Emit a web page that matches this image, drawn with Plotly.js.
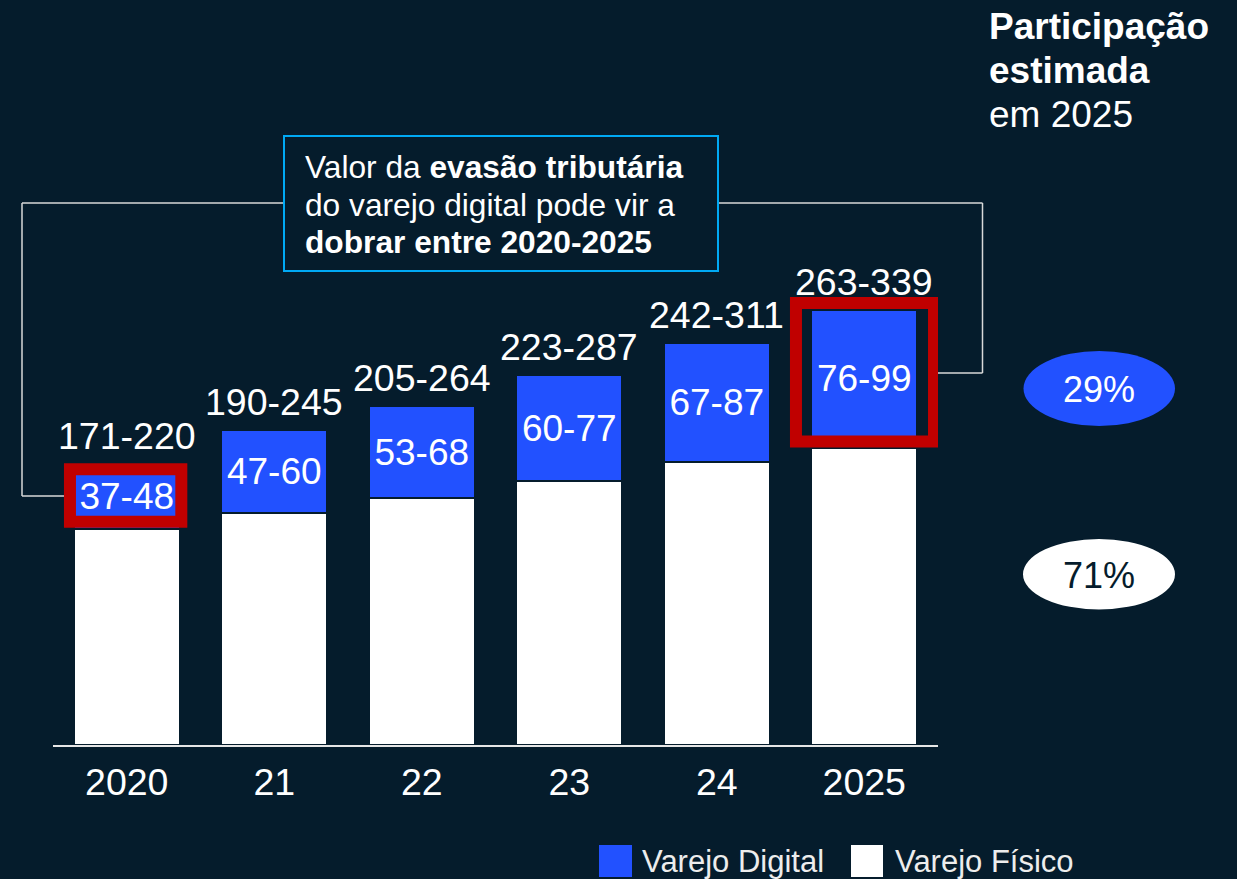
<!DOCTYPE html>
<html>
<head>
<meta charset="utf-8">
<script src="https://cdn.plot.ly/plotly-3.0.1.min.js"></script>
<style>
  html, body { margin: 0; padding: 0; background: #051C2C; }
  #chart { width: 1237px; height: 879px; }
</style>
</head>
<body>
<div id="chart"></div>
<script>
// ---- Data ----
const years = ['2020', '21', '22', '23', '24', '2025'];
const varejoFisico = [149, 160, 170, 182, 195, 205];
const varejoDigital = [45, 57, 64, 73, 82, 95];
const digitalLabels = ['37-48', '47-60', '53-68', '60-77', '67-87', '76-99'];
const totalLabels = ['171-220', '190-245', '205-264', '223-287', '242-311', '263-339'];
const shareDigital = '29%';
const shareFisico = '71%';
const seriesNames = ['Varejo Digital', 'Varejo Físico'];
const calloutLines = ['Valor da <b>evasão tributária</b>', 'do varejo digital pode vir a', '<b>dobrar entre 2020-2025</b>'];
const sideTitle = ['<b>Participação</b>', '<b>estimada</b>', 'em 2025'];

// ---- Style ----
const BG = '#051C2C';
const BLUE = '#2251FF';
const WHITE = '#FFFFFF';
const RED = '#C00000';
const CYAN = '#00A9F4';
const LINE = '#D9D9D9';
const FONT = 'Arial, "Liberation Sans", sans-serif';

// layout geometry (pixels)
const M = {l: 53, r: 299, t: 54, b: 134};
const W = 1237 - M.l - M.r, H = 879 - M.t - M.b;
const px = v => (v - M.l) / W;          // pixel x -> paper x
const py = v => (879 - M.b - v) / H;    // pixel y -> paper y

const traces = [
  {
    type: 'bar', name: seriesNames[1], x: years, y: varejoFisico,
    marker: {color: WHITE, line: {color: BG, width: 2}},
    hoverinfo: 'skip', showlegend: false, cliponaxis: false
  },
  {
    type: 'bar', name: seriesNames[0], x: years, y: varejoDigital,
    marker: {color: BLUE, line: {color: BG, width: 2}},
    text: digitalLabels, textposition: 'inside', insidetextanchor: 'middle',
    textangle: 0, constraintext: 'none',
    textfont: {family: FONT, size: 37, color: WHITE},
    hoverinfo: 'skip', showlegend: false, cliponaxis: false
  }
];

const annotations = [];
// totals above bars
years.forEach((yr, i) => {
  annotations.push({
    x: i, y: varejoFisico[i] + varejoDigital[i], xref: 'x', yref: 'y',
    text: totalLabels[i], showarrow: false, xanchor: 'center', yanchor: 'middle', yshift: 28,
    font: {family: FONT, size: 37.5, color: WHITE}
  });
});
// callout text
const calloutY = [166.7, 204.5, 241.7];
calloutLines.forEach((t, i) => {
  annotations.push({
    x: px(303), y: py(calloutY[i]), xref: 'paper', yref: 'paper',
    xanchor: 'left', yanchor: 'middle', showarrow: false, text: t,
    font: {family: FONT, size: 31.7, color: WHITE}
  });
});
// side title
const sideY = [26, 70, 114];
sideTitle.forEach((t, i) => {
  annotations.push({
    x: px(987), y: py(sideY[i]), xref: 'paper', yref: 'paper',
    xanchor: 'left', yanchor: 'middle', showarrow: false, text: t,
    font: {family: FONT, size: 37, color: WHITE}
  });
});
// share ellipse labels
annotations.push({x: px(1099), y: py(389), xref: 'paper', yref: 'paper', showarrow: false,
  xanchor: 'center', yanchor: 'middle',
  text: shareDigital, font: {family: FONT, size: 36, color: WHITE}});
annotations.push({x: px(1099), y: py(575), xref: 'paper', yref: 'paper', showarrow: false,
  xanchor: 'center', yanchor: 'middle',
  text: shareFisico, font: {family: FONT, size: 36, color: BG}});
// legend text
annotations.push({x: px(640), y: py(861), xref: 'paper', yref: 'paper', xanchor: 'left', yanchor: 'middle',
  showarrow: false, text: seriesNames[0], font: {family: FONT, size: 31, color: '#EDEDED'}});
annotations.push({x: px(893), y: py(861), xref: 'paper', yref: 'paper', xanchor: 'left', yanchor: 'middle',
  showarrow: false, text: seriesNames[1], font: {family: FONT, size: 31, color: '#EDEDED'}});

const pline = (x0, y0, x1, y1) => ({type: 'line', xref: 'paper', yref: 'paper',
  x0: px(x0), y0: py(y0), x1: px(x1), y1: py(y1), line: {color: LINE, width: 1.5}, layer: 'above'});

const shapes = [
  // connectors
  pline(22, 203, 284, 203),
  pline(22, 203, 22, 496),
  pline(22, 496, 72, 496),
  pline(718, 203, 982.5, 203),
  pline(982.5, 203, 982.5, 373),
  pline(982.5, 373, 932, 373),
  // callout box
  {type: 'rect', xref: 'paper', yref: 'paper', x0: px(284), y0: py(136), x1: px(718), y1: py(271),
   line: {color: CYAN, width: 2}, fillcolor: BG, layer: 'above'},
  // red highlight boxes
  {type: 'rect', xref: 'x', yref: 'y', x0: -0.385, x1: 0.37, y0: 154, y1: 190.1,
   line: {color: RED, width: 12}, fillcolor: 'rgba(0,0,0,0)', layer: 'above'},
  {type: 'rect', xref: 'x', yref: 'y', x0: 4.537, x1: 5.473, y0: 209.3, y1: 304.8,
   line: {color: RED, width: 12}, fillcolor: 'rgba(0,0,0,0)', layer: 'above'},
  // share ellipses
  {type: 'circle', xref: 'paper', yref: 'paper', x0: px(1023.5), x1: px(1175), y0: py(351), y1: py(426),
   fillcolor: BLUE, line: {width: 0}, layer: 'above'},
  {type: 'circle', xref: 'paper', yref: 'paper', x0: px(1023), x1: px(1175), y0: py(539), y1: py(609.5),
   fillcolor: WHITE, line: {width: 0}, layer: 'above'},
  // legend swatches
  {type: 'rect', xref: 'paper', yref: 'paper', x0: px(599), x1: px(632), y0: py(845), y1: py(877),
   fillcolor: BLUE, line: {width: 0}, layer: 'above'},
  {type: 'rect', xref: 'paper', yref: 'paper', x0: px(851), x1: px(883), y0: py(845), y1: py(877),
   fillcolor: WHITE, line: {width: 0}, layer: 'above'}
];

const layout = {
  width: 1237, height: 879,
  paper_bgcolor: BG, plot_bgcolor: BG,
  margin: M,
  barmode: 'stack', bargap: 0.28,
  showlegend: false,
  font: {family: FONT, color: WHITE},
  xaxis: {
    type: 'category', range: [-0.5, 5.5], fixedrange: true,
    showgrid: false, zeroline: false,
    showline: true, linecolor: '#E6E6E6', linewidth: 2,
    ticks: 'outside', ticklen: 3, tickcolor: 'rgba(0,0,0,0)',
    tickfont: {family: FONT, size: 37.5, color: WHITE}
  },
  yaxis: {
    range: [0, 476.5], visible: true, fixedrange: true,
    showgrid: false, zeroline: false, showline: false,
    showticklabels: false, ticks: ''
  },
  annotations: annotations,
  shapes: shapes
};

Plotly.newPlot('chart', traces, layout, {displayModeBar: false, staticPlot: true});
</script>
</body>
</html>
